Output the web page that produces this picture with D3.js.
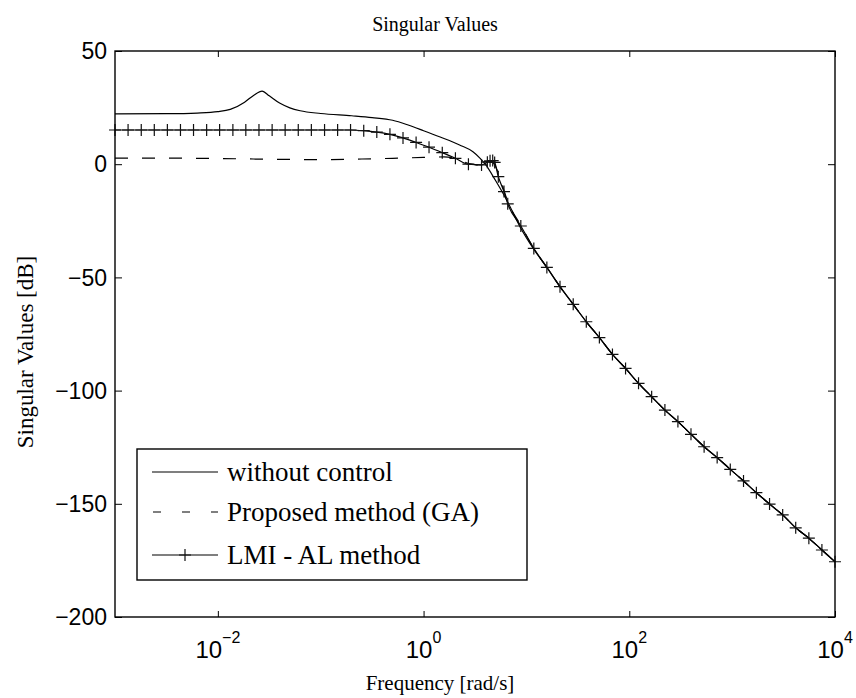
<!DOCTYPE html>
<html>
<head>
<meta charset="utf-8">
<script src="https://cdn.jsdelivr.net/npm/d3@7"></script>
<style>
  body { margin: 0; background: #fff; }
  svg { display: block; }
</style>
</head>
<body>
<svg id="chart" width="856" height="698"></svg>
<script>
// LMI - AL method (frequency grid of the plot + extra points near the crossover)
const lmiFreq = [0.001, 0.00134, 0.0018, 0.00241, 0.00323, 0.00433, 0.0058, 0.00778, 0.0104, 0.014,
  0.0187, 0.0251, 0.0337, 0.0451, 0.0605, 0.0811, 0.109, 0.146, 0.195, 0.262,
  0.351, 0.471, 0.631, 0.846, 1.13, 1.52, 2.04, 2.73, 3.66, 4.17,
  4.43, 4.70, 4.91, 5.33, 6.05, 6.58, 8.82, 11.8, 15.8, 21.2,
  28.5, 38.2, 51.2, 68.6, 92, 123, 165, 222, 297, 398,
  534, 715, 959, 1290, 1720, 2310, 3100, 4150, 5570, 7460, 10000]
const lmiDb = [15.1, 15.1, 15.1, 15.1, 15.1, 15.1, 15.1, 15.1, 15.1, 15.1,
  15.1, 15.1, 15.1, 15.1, 15.1, 15.1, 15.1, 15.1, 15.1, 14.8,
  14.2, 13.2, 11.6, 9.6, 7.5, 5.1, 2.6, 0.0, -0.3, 0.9,
  1.5, 1.6, 0.8, -5.5, -12.1, -17.5, -27.3, -37.2, -45.6, -54.1,
  -61.9, -69.6, -76.6, -84.0, -90.2, -96.8, -102.7, -108.6, -113.7, -119.3,
  -124.8, -129.6, -134.8, -139.9, -145.1, -150.1, -154.9, -160.6, -165.2, -170.4, -175.6]

// without control
const openFreq = [0.001, 0.00316, 0.0063, 0.01, 0.0132, 0.0182, 0.0224, 0.0269, 0.0316, 0.0398,
  0.0501, 0.0631, 0.1, 0.2, 0.316, 0.5, 0.708, 1, 1.45, 2.24,
  3.02, 3.55, 3.98, 5.01, 6.43, 8.65, 11.6, 15.8, 21.2, 28.5,
  38.2, 51.2, 68.6, 92, 123, 165, 222, 297, 398, 534,
  715, 959, 1290, 1720, 2310, 3100, 4150, 5570, 7460, 10000]
const openDb = [22.2, 22.3, 22.6, 23.2, 24.2, 27.4, 30.5, 32.3, 30.2, 27.0,
  24.9, 23.6, 22.4, 21.4, 20.6, 19.4, 17.3, 14.8, 12.0, 8.5,
  5.5, 2.6, 0.0, -7.2, -15.8, -27.6, -37.1, -45.6, -54.1, -61.9,
  -69.6, -76.6, -84.0, -90.2, -96.8, -102.7, -108.6, -113.7, -119.3, -124.8,
  -129.6, -134.8, -139.9, -145.1, -150.1, -154.9, -160.6, -165.2, -170.4, -175.6]

// Proposed method (GA)
const gaFreq = [0.001, 0.00316, 0.01, 0.0316, 0.1, 0.251, 0.5, 1, 1.58, 2.09,
  2.75, 3.31, 3.98, 4.57, 5.01, 5.75, 6.58, 8.82, 11.8, 15.8,
  21.2, 28.5, 38.2, 51.2, 68.6, 92, 123, 165, 222, 297,
  398, 534, 715, 959, 1290, 1720, 2310, 3100, 4150, 5570, 7460, 10000]
const gaDb = [2.7, 2.7, 2.5, 2.2, 2.0, 2.3, 2.6, 3.0, 3.2, 2.5,
  0.3, -0.3, 0.6, 1.2, -1.0, -8.5, -16.5, -27.0, -37.2, -45.6,
  -54.1, -61.9, -69.6, -76.6, -84.0, -90.2, -96.8, -102.7, -108.6, -113.7,
  -119.3, -124.8, -129.6, -134.8, -139.9, -145.1, -150.1, -154.9, -160.6, -165.2, -170.4, -175.6]

const xTickExps = [-2, 0, 2, 4]
const yTicks = [50, 0, -50, -100, -150, -200]
const legendLabels = ['without control', 'Proposed method (GA)', 'LMI - AL method']

const svg = d3.select('#chart')
const plotLeft = 115
const plotRight = 835
const plotTop = 51
const plotBottom = 617
const sans = 'Liberation Sans, Arial, Helvetica, sans-serif'
const serif = 'Liberation Serif, Times New Roman, serif'

const x = d3.scaleLog().domain([1e-3, 1e4]).range([plotLeft, plotRight])
const y = d3.scaleLinear().domain([-200, 50]).range([plotBottom, plotTop])

const zip = (fs, vs) => fs.map((f, i) => [f, vs[i]])
const line = d3.line()
  .x(d => x(d[0]))
  .y(d => y(d[1]))
  .curve(d3.curveMonotoneX)

const plot = svg.append('g')

// curves
plot.append('path')
  .datum(zip(openFreq, openDb))
  .attr('d', line)
  .attr('fill', 'none')
  .attr('stroke', '#000')
  .attr('stroke-width', 1.2)

plot.append('path')
  .datum(zip(gaFreq, gaDb))
  .attr('d', line)
  .attr('fill', 'none')
  .attr('stroke', '#000')
  .attr('stroke-width', 1.2)
  .attr('stroke-dasharray', '13,14')

const lmiData = zip(lmiFreq, lmiDb)
plot.append('path')
  .datum(lmiData)
  .attr('d', line)
  .attr('fill', 'none')
  .attr('stroke', '#000')
  .attr('stroke-width', 1.2)

// '+' markers
const plus = (cx, cy, r) => `M${cx - r},${cy}H${cx + r}M${cx},${cy - r}V${cy + r}`
plot.append('path')
  .attr('d', lmiData.map(d => plus(x(d[0]), y(d[1]), 6)).join(''))
  .attr('fill', 'none')
  .attr('stroke', '#111')
  .attr('stroke-width', 1.2)

// axes: ticks inward on all four sides
const axisStyle = g => {
  g.select('.domain').remove()
  g.selectAll('line').attr('stroke', '#000').attr('stroke-width', 1)
  g.selectAll('text').remove()
}
const xTickVals = xTickExps.map(e => Math.pow(10, e))
svg.append('g').attr('transform', `translate(0,${plotBottom})`)
  .call(d3.axisBottom(x).tickValues(xTickVals).tickSize(-6)).call(axisStyle)
svg.append('g').attr('transform', `translate(0,${plotTop})`)
  .call(d3.axisTop(x).tickValues(xTickVals).tickSize(-6)).call(axisStyle)
svg.append('g').attr('transform', `translate(${plotLeft},0)`)
  .call(d3.axisLeft(y).tickValues(yTicks).tickSize(-7)).call(axisStyle)
svg.append('g').attr('transform', `translate(${plotRight},0)`)
  .call(d3.axisRight(y).tickValues(yTicks).tickSize(-7)).call(axisStyle)

svg.append('rect')
  .attr('x', plotLeft)
  .attr('y', plotTop)
  .attr('width', plotRight - plotLeft)
  .attr('height', plotBottom - plotTop)
  .attr('fill', 'none')
  .attr('stroke', '#000')
  .attr('stroke-width', 1.4)

// tick labels
svg.append('g')
  .selectAll('text')
  .data(yTicks)
  .enter()
  .append('text')
  .attr('x', plotLeft - 8)
  .attr('y', d => y(d))
  .attr('dy', '0.36em')
  .attr('text-anchor', 'end')
  .style('font-family', sans)
  .style('font-size', '23px')
  .text(d => d < 0 ? '\u2212' + Math.abs(d) : d)

const xl = svg.append('g')
  .selectAll('text')
  .data(xTickExps)
  .enter()
  .append('text')
  .attr('x', d => x(Math.pow(10, d)))
  .attr('y', 658)
  .attr('text-anchor', 'middle')
  .style('font-family', sans)
  .style('font-size', '24px')
xl.append('tspan').text('10')
xl.append('tspan')
  .attr('dy', -15)
  .style('font-size', '16px')
  .text(d => d < 0 ? '\u2212' + Math.abs(d) : d)

// title and axis labels
svg.append('text')
  .attr('x', 435)
  .attr('y', 31)
  .attr('text-anchor', 'middle')
  .style('font-family', serif)
  .style('font-size', '20px')
  .text('Singular Values')

svg.append('text')
  .attr('x', 440)
  .attr('y', 690)
  .attr('text-anchor', 'middle')
  .style('font-family', serif)
  .style('font-size', '21px')
  .text('Frequency [rad/s]')

svg.append('text')
  .attr('transform', 'translate(33,352) rotate(-90)')
  .attr('text-anchor', 'middle')
  .style('font-family', serif)
  .style('font-size', '23px')
  .text('Singular Values [dB]')

// legend
const legend = svg.append('g')
legend.append('rect')
  .attr('x', 137)
  .attr('y', 449)
  .attr('width', 390)
  .attr('height', 131)
  .attr('fill', '#fff')
  .attr('stroke', '#000')
  .attr('stroke-width', 1.4)

const rowY = [472, 512, 555]
const rows = legend.selectAll('g.row')
  .data(legendLabels)
  .enter()
  .append('g')
  .attr('class', 'row')
  .attr('transform', (d, i) => `translate(0,${rowY[i]})`)

rows.append('line')
  .attr('x1', 152)
  .attr('x2', 218)
  .attr('stroke', '#000')
  .attr('stroke-width', 1.2)
  .attr('stroke-dasharray', (d, i) => i === 1 ? '8,21' : null)
  .attr('stroke-dashoffset', (d, i) => i === 1 ? -1 : null)

rows.filter((d, i) => i === 2)
  .append('path')
  .attr('d', plus(185, 0, 6))
  .attr('stroke', '#111')
  .attr('stroke-width', 1.2)

rows.append('text')
  .attr('x', 227)
  .attr('dy', '0.33em')
  .style('font-family', serif)
  .style('font-size', '27px')
  .text(d => d)
</script>
</body>
</html>
